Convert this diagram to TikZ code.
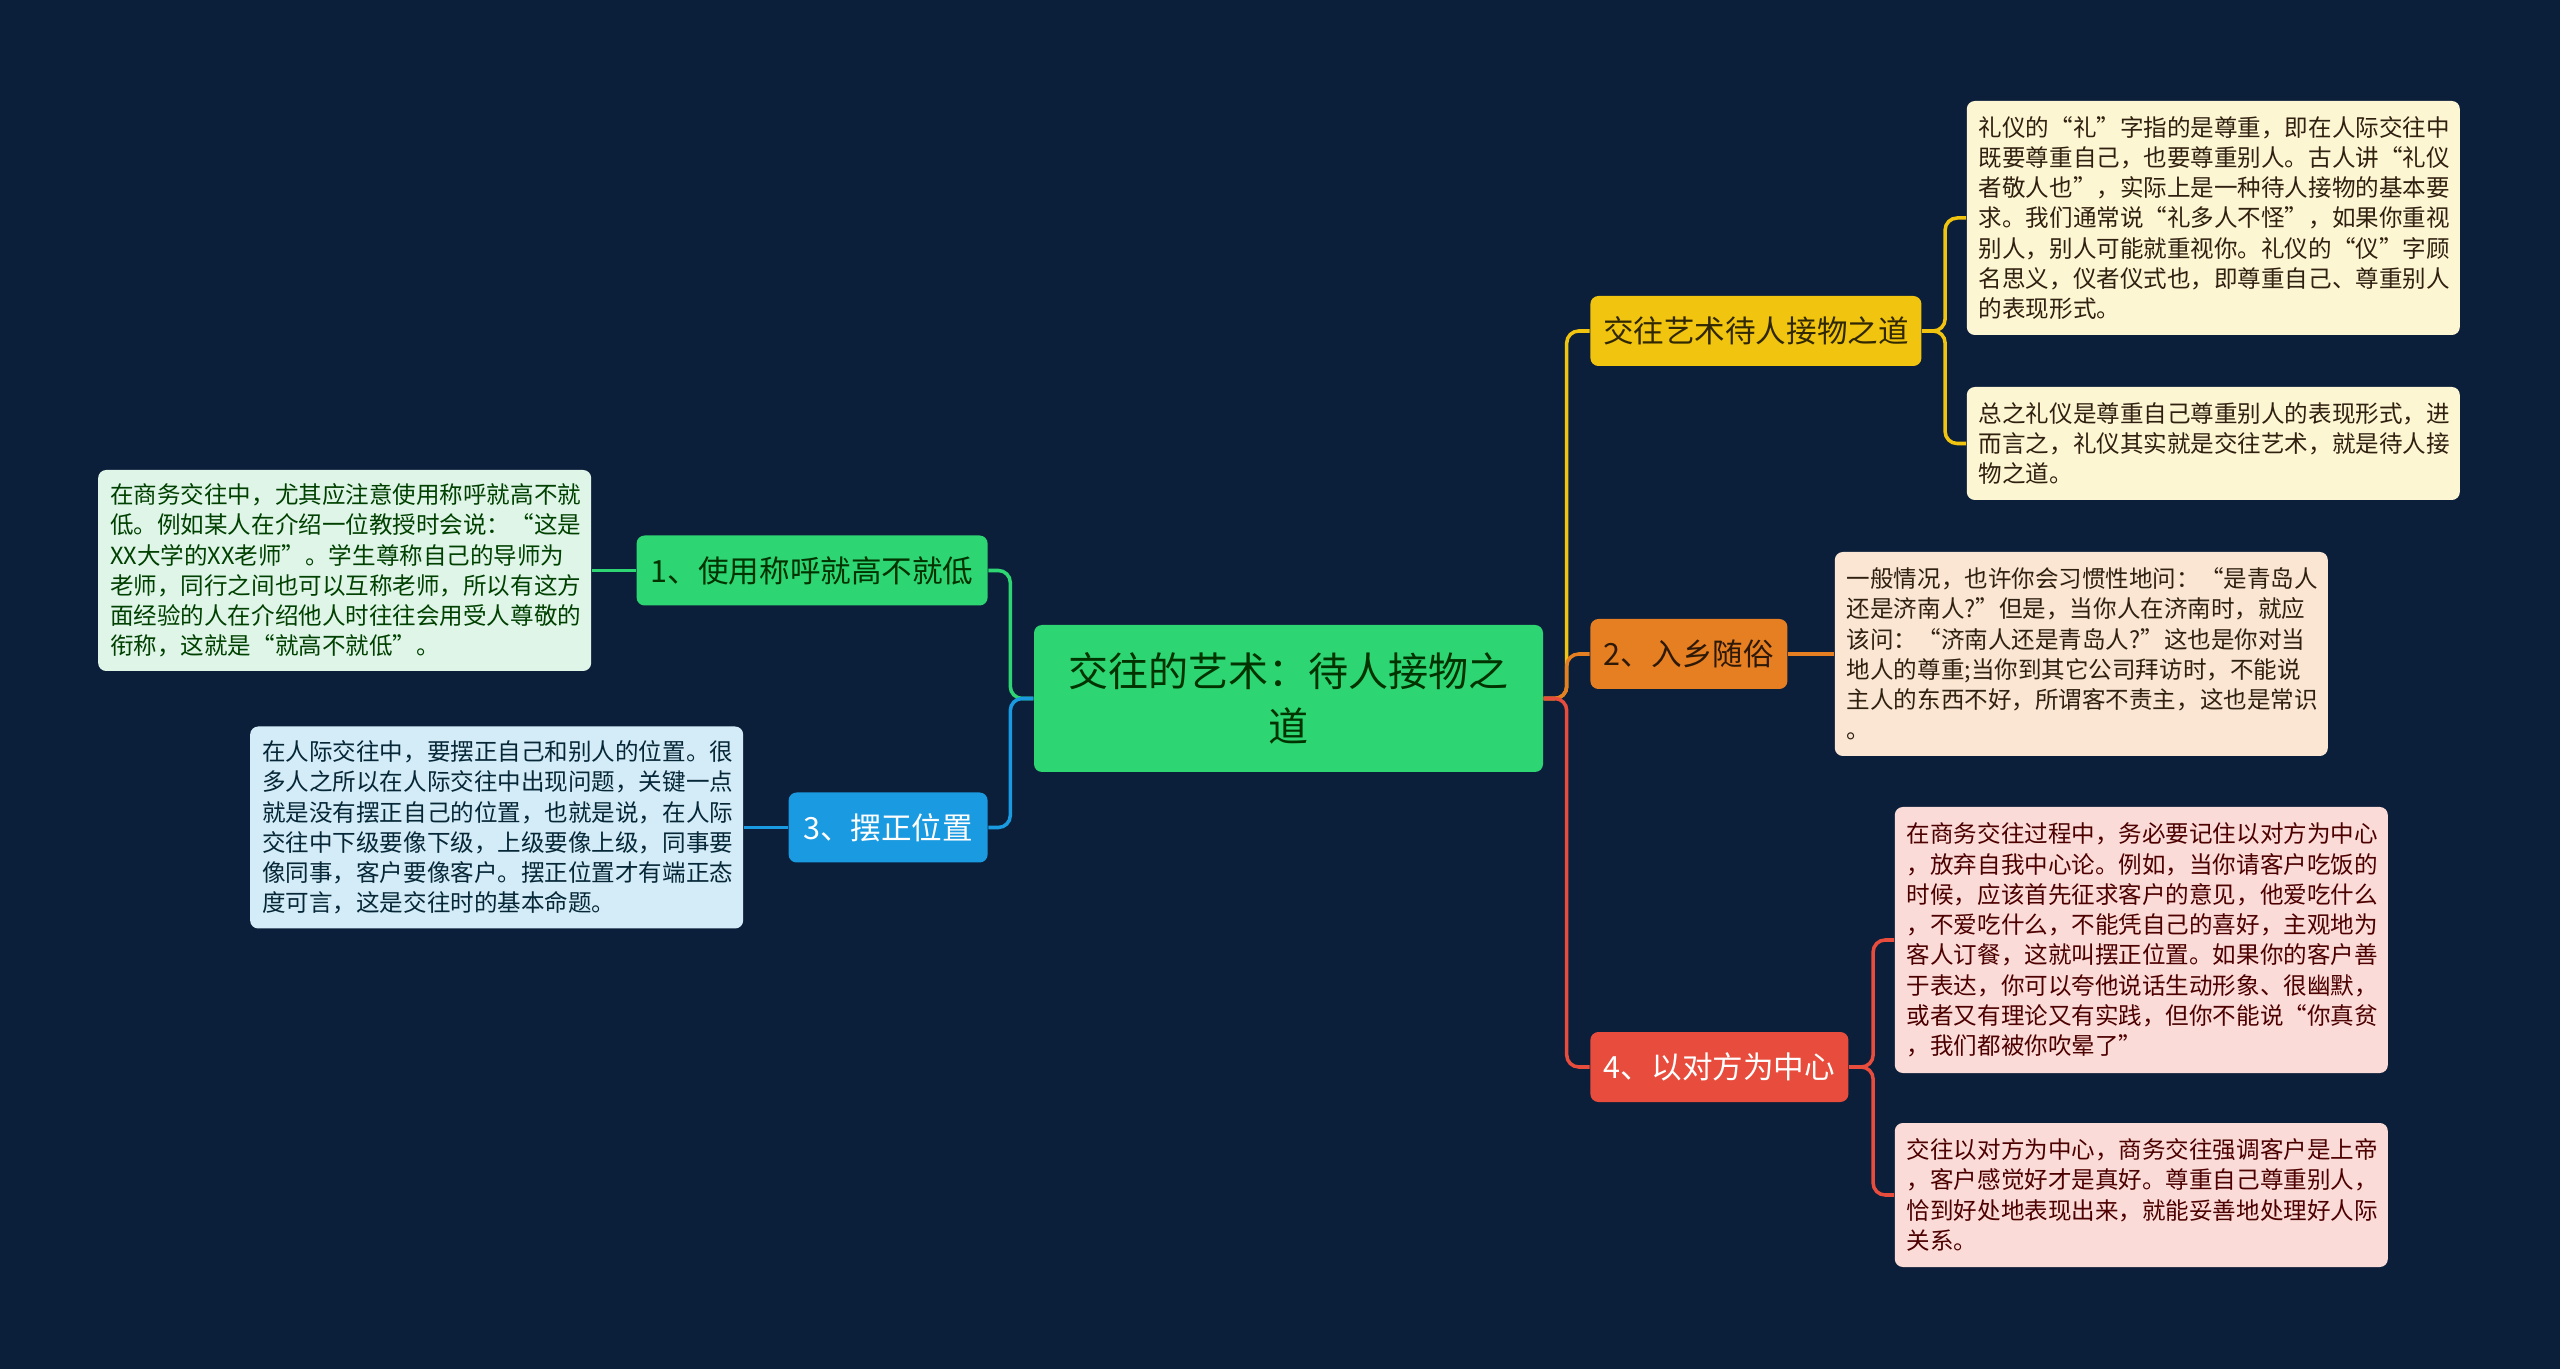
\documentclass[tikz,border=0pt]{standalone}
\usepackage{fontspec}
\setmainfont{Noto Sans CJK SC}
\usetikzlibrary{
  positioning,
}
\definecolor{bg}{HTML}{0C1F3A}
\definecolor{cGreen}{HTML}{2ED573}
\definecolor{cBlue}{HTML}{1A9AE0}
\definecolor{cYellow}{HTML}{F1C40F}
\definecolor{cOrange}{HTML}{E67E22}
\definecolor{cRed}{HTML}{E74C3C}
\definecolor{lGreen}{HTML}{DFF5E8}
\definecolor{lBlue}{HTML}{D4ECF7}
\definecolor{lYellow}{HTML}{FDF6D3}
\definecolor{lOrange}{HTML}{FBE6D4}
\definecolor{lRed}{HTML}{FADBD8}

\begin{document}
\begin{tikzpicture}[
    box/.style={rounded corners=0.08cm, inner sep=0pt},
    topic/.style={box, font=\fontsize{8.7pt}{10pt}\selectfont, minimum height=0.70cm},
    note/.style={box, font=\fontsize{6.7pt}{8.6pt}\selectfont, text width=4.69cm,
      align=left, inner xsep=0.12cm},
    link/.style={line width=1pt, rounded corners=0.12cm},
  ]
  \fill [bg] (0,0) rectangle (25.6,-13.69);
  \useasboundingbox (0,0) rectangle (25.6,-13.69);

  \node [box, fill=cGreen, text=black!80!green, align=center,
    font=\fontsize{11.4pt}{15.5pt}\selectfont,
    minimum width=5.09cm, minimum height=1.47cm] (T) at (12.885,-6.985)
    {交往的艺术：待人接物之\\道};

  % left side
  \node [topic, fill=cGreen, text=black!80!green, minimum width=3.51cm,
    left=0.45cm of T.west, yshift=1.28cm] (n1) {1、使用称呼就高不就低};
  \node [topic, fill=cBlue, text=white, minimum width=1.99cm,
    left=0.45cm of T.west, yshift=-1.29cm] (n3) {3、摆正位置};
  \node [note, fill=lGreen, text=black!75!green, minimum height=2.01cm,
    left=0.44cm of n1] (d1)
    {在商务交往中，尤其应注意使用称呼就高不就\\
     低。例如某人在介绍一位教授时会说：“这是\\
     XX大学的XX老师”。学生尊称自己的导师为\\
     老师，同行之间也可以互称老师，所以有这方\\
     面经验的人在介绍他人时往往会用受人尊敬的\\
     衔称，这就是“就高不就低”。};
  \node [note, fill=lBlue, text=black!75!cBlue, minimum height=2.02cm,
    left=0.44cm of n3] (d3)
    {在人际交往中，要摆正自己和别人的位置。很\\
     多人之所以在人际交往中出现问题，关键一点\\
     就是没有摆正自己的位置，也就是说，在人际\\
     交往中下级要像下级，上级要像上级，同事要\\
     像同事，客户要像客户。摆正位置才有端正态\\
     度可言，这是交往时的基本命题。};

  % right side
  \node [topic, fill=cYellow, text=black!80!cYellow, minimum width=3.31cm,
    right=0.46cm of T.east, yshift=3.675cm] (nA) {交往艺术待人接物之道};
  \node [topic, fill=cOrange, text=black!80!cOrange, minimum width=1.97cm,
    right=0.46cm of T.east, yshift=0.445cm] (n2) {2、入乡随俗};
  \node [topic, fill=cRed, text=white, minimum width=2.58cm,
    right=0.46cm of T.east, yshift=-3.685cm] (n4) {4、以对方为中心};

  \node [note, fill=lYellow, text=black!75!brown, minimum height=2.34cm,
    right=0.44cm of nA.east, yshift=1.13cm] (dA1)
    {礼仪的“礼”字指的是尊重，即在人际交往中\\
     既要尊重自己，也要尊重别人。古人讲“礼仪\\
     者敬人也”，实际上是一种待人接物的基本要\\
     求。我们通常说“礼多人不怪”，如果你重视\\
     别人，别人可能就重视你。礼仪的“仪”字顾\\
     名思义，仪者仪式也，即尊重自己、尊重别人\\
     的表现形式。};
  \node [note, fill=lYellow, text=black!75!brown, minimum height=1.13cm,
    right=0.44cm of nA.east, yshift=-1.125cm] (dA2)
    {总之礼仪是尊重自己尊重别人的表现形式，进\\
     而言之，礼仪其实就是交往艺术，就是待人接\\
     物之道。};
  \node [note, fill=lOrange, text=black!75!brown, minimum height=2.04cm,
    right=0.46cm of n2] (d2)
    {一般情况，也许你会习惯性地问：“是青岛人\\
     还是济南人?”但是，当你人在济南时，就应\\
     该问：“济南人还是青岛人?”这也是你对当\\
     地人的尊重;当你到其它公司拜访时，不能说\\
     主人的东西不好，所谓客不责主，这也是常识\\
     。};
  \node [note, fill=lRed, text=black!70!red, minimum height=2.66cm,
    right=0.45cm of n4.east, yshift=1.27cm] (d4a)
    {在商务交往过程中，务必要记住以对方为中心\\
     ，放弃自我中心论。例如，当你请客户吃饭的\\
     时候，应该首先征求客户的意见，他爱吃什么\\
     ，不爱吃什么，不能凭自己的喜好，主观地为\\
     客人订餐，这就叫摆正位置。如果你的客户善\\
     于表达，你可以夸他说话生动形象、很幽默，\\
     或者又有理论又有实践，但你不能说“你真贫\\
     ，我们都被你吹晕了”};
  \node [note, fill=lRed, text=black!70!red, minimum height=1.44cm,
    right=0.45cm of n4.east, yshift=-1.28cm] (d4b)
    {交往以对方为中心，商务交往强调客户是上帝\\
     ，客户感觉好才是真好。尊重自己尊重别人，\\
     恰到好处地表现出来，就能妥善地处理好人际\\
     关系。};

  % connectors
  \draw [link, cGreen] (T.west) -- ++(-0.23,0) |- (n1.east);
  \draw [link, cBlue] (T.west) -- ++(-0.23,0) |- (n3.east);
  \draw [link, cGreen] (n1) -- (d1);
  \draw [link, cBlue] (n3) -- (d3);
  \draw [link, cYellow] (T.east) -- ++(0.23,0) |- (nA.west);
  \draw [link, cOrange] (T.east) -- ++(0.23,0) |- (n2.west);
  \draw [link, cRed] (T.east) -- ++(0.23,0) |- (n4.west);
  \draw [link, cYellow] (nA.east) -- ++(0.23,0) |- (dA1.west);
  \draw [link, cYellow] (nA.east) -- ++(0.23,0) |- (dA2.west);
  \draw [link, cOrange] (n2) -- (d2);
  \draw [link, cRed] (n4.east) -- ++(0.24,0) |- (d4a.west);
  \draw [link, cRed] (n4.east) -- ++(0.24,0) |- (d4b.west);
\end{tikzpicture}
\end{document}
